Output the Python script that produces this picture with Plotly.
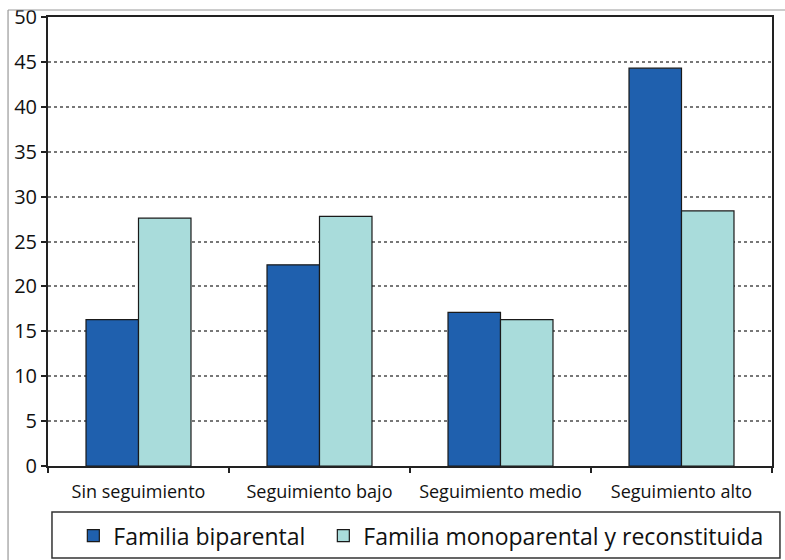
import plotly.graph_objects as go

categories = ["Sin seguimiento", "Seguimiento bajo", "Seguimiento medio", "Seguimiento alto"]
biparental = [16.3, 22.4, 17.1, 44.3]
monoparental = [27.6, 27.8, 16.3, 28.4]
series_names = ["Familia biparental", "Familia monoparental y reconstituida"]
y_ticks = [0, 5, 10, 15, 20, 25, 30, 35, 40, 45, 50]

FONT = "Open Sans"

fig = go.Figure()
fig.add_trace(go.Bar(x=categories, y=biparental, name=series_names[0], legend="legend",
                     marker=dict(color="#1f60ae", line=dict(color="#1a1a1a", width=1.2))))
fig.add_trace(go.Bar(x=categories, y=monoparental, name=series_names[1], legend="legend2",
                     marker=dict(color="#a9dcdb", line=dict(color="#1a1a1a", width=1.2))))

legend_common = dict(orientation="h", xanchor="left", y=-0.155, yanchor="middle",
                     font=dict(size=23, family=FONT, color="#111"),
                     bgcolor="rgba(0,0,0,0)", borderwidth=0, itemwidth=30)

fig.update_layout(
    width=785, height=560,
    margin=dict(l=48, r=13, t=17, b=94, autoexpand=False),
    paper_bgcolor="white", plot_bgcolor="white",
    barmode="group", bargap=0.42, bargroupgap=0,
    font=dict(family=FONT, color="#111"),
    showlegend=True,
    legend=dict(x=0.035, **legend_common),
    legend2=dict(x=0.3803, **legend_common),
    xaxis=dict(type="category", tickson="boundaries", ticks="outside", ticklen=5,
               tickcolor="#222", tickwidth=1.5, ticklabelstandoff=9,
               showline=True, linecolor="#222", linewidth=1.5, mirror=True,
               showgrid=False, tickfont=dict(size=18, family=FONT, color="#111")),
    yaxis=dict(range=[0, 50], tickvals=y_ticks, ticks="outside", ticklen=5,
               tickcolor="#222", tickwidth=1.5,
               showline=True, linecolor="#222", linewidth=2, mirror=True,
               showgrid=True, gridcolor="#777", griddash="dot", gridwidth=1.5,
               zeroline=False, tickfont=dict(size=20, family=FONT, color="#111")),
    shapes=[
        # outer frame (left and top)
        dict(type="line", xref="paper", yref="paper", x0=-0.0552, x1=-0.0552, y0=1.0156, y1=-0.22,
             line=dict(color="#999", width=1.2)),
        dict(type="line", xref="paper", yref="paper", x0=-0.0552, x1=1.02, y0=1.0156, y1=1.0156,
             line=dict(color="#999", width=1.2)),
        # legend box
        dict(type="rect", xref="paper", yref="paper", x0=0.0055, x1=1.011, y0=-0.1024, y1=-0.2049,
             line=dict(color="#333", width=1.5)),
    ],
)

fig.write_html("out.html")
